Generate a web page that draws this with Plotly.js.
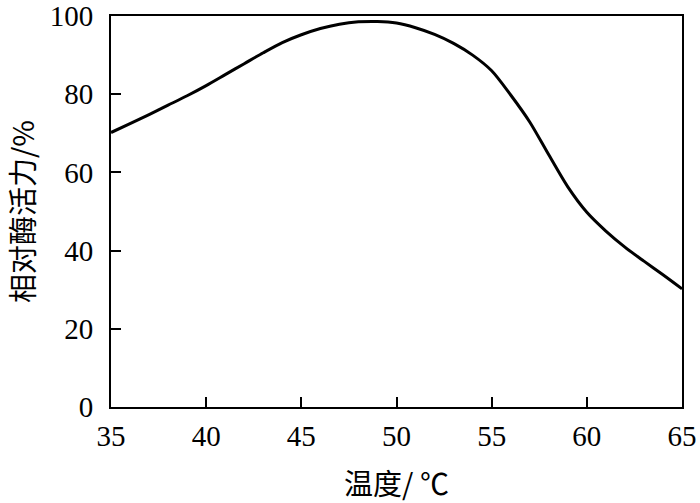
<!DOCTYPE html>
<html>
<head>
<meta charset="utf-8">
<script src="https://cdn.plot.ly/plotly-3.0.1.min.js"></script>
<style>html,body{margin:0;padding:0;background:#fff;}#chart{width:700px;height:503px;}</style>
</head>
<body>
<div id="chart"></div>
<script>
const temperature = [35, 36, 37, 38, 39, 40, 41, 42, 43, 44, 45, 46, 47, 48, 49, 50, 51, 52, 53, 54, 55, 56, 57, 58, 59, 60, 61, 62, 63, 64, 65];
const relativeActivity = [70.2, 72.5, 74.8, 77.2, 79.6, 82.2, 85.0, 87.8, 90.6, 93.2, 95.2, 96.8, 97.9, 98.5, 98.6, 98.2, 97.0, 95.3, 93.0, 90.0, 86.0, 79.8, 72.9, 64.5, 56.3, 49.8, 45.0, 40.9, 37.3, 33.8, 30.2];
const xTicks = [35, 40, 45, 50, 55, 60, 65];
const yTicks = [0, 20, 40, 60, 80, 100];
const xTitle = '温度/ ℃';
const yTitle = '相对酶活力/%';

const fontFam = 'Liberation Serif';
const cjkFam = 'Noto Sans CJK SC, Liberation Serif, serif';

const trace = {
  x: temperature,
  y: relativeActivity,
  type: 'scatter',
  mode: 'lines',
  line: {color: '#000', width: 3, shape: 'spline', smoothing: 0.8},
  hoverinfo: 'skip'
};

const layout = {
  width: 700,
  height: 503,
  margin: {l: 111, r: 18, t: 16, b: 96},
  paper_bgcolor: '#fff',
  plot_bgcolor: '#fff',
  showlegend: false,
  font: {family: fontFam, color: '#000', size: 29},
  xaxis: {
    range: [35, 65],
    tickvals: xTicks,
    ticktext: xTicks.map(String),
    ticks: 'inside',
    ticklen: 10,
    tickwidth: 2,
    tickcolor: '#000',
    ticklabelstandoff: 2,
    showline: true,
    linecolor: '#000',
    linewidth: 2,
    mirror: true,
    showgrid: false,
    zeroline: false,
    tickfont: {family: fontFam, size: 29, color: '#000'},
    title: {text: xTitle, font: {family: cjkFam, size: 29, color: '#000'}, standoff: 24}
  },
  yaxis: {
    range: [0, 100],
    tickvals: yTicks,
    ticktext: yTicks.map(String),
    ticks: 'inside',
    ticklen: 10,
    tickwidth: 2,
    tickcolor: '#000',
    ticklabelstandoff: 10,
    showline: true,
    linecolor: '#000',
    linewidth: 2,
    mirror: true,
    showgrid: false,
    zeroline: false,
    tickfont: {family: fontFam, size: 29, color: '#000'},
    title: {text: yTitle, font: {family: cjkFam, size: 29, color: '#000'}, standoff: 30}
  }
};

Plotly.newPlot('chart', [trace], layout, {staticPlot: true, displayModeBar: false});
</script>
</body>
</html>
